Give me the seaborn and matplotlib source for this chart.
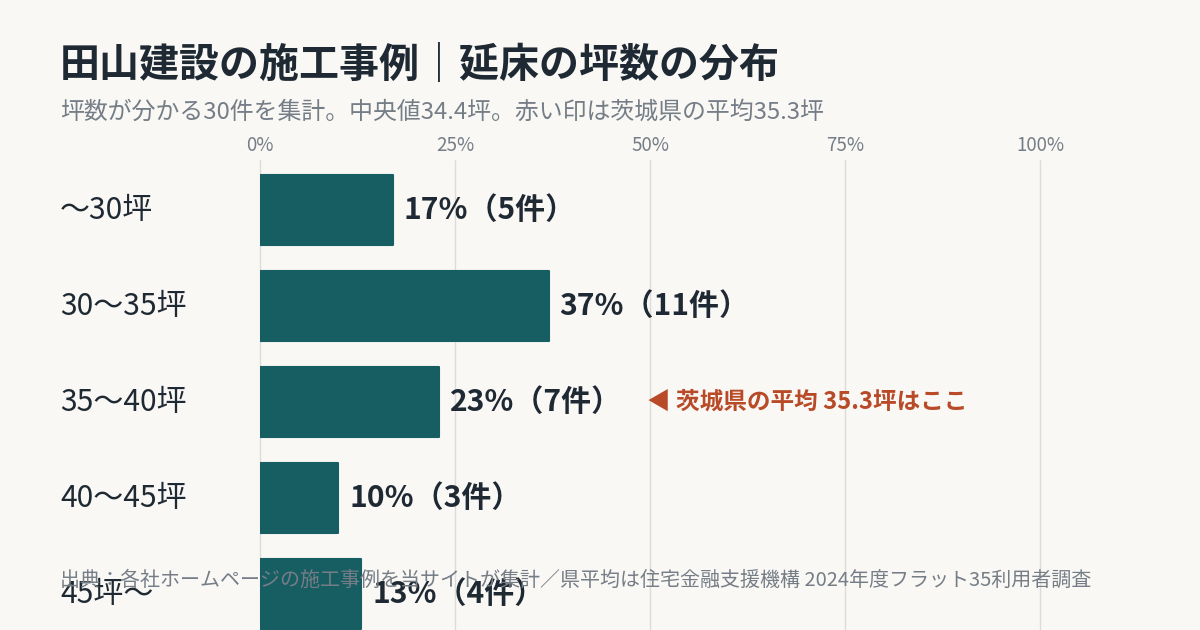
import numpy as np
import pandas as pd
import seaborn as sns
import matplotlib.pyplot as plt

# data
categories = ['～30坪', '30～35坪', '35～40坪', '40～45坪', '45坪～']
shares = [17, 37, 23, 10, 13]
counts = [5, 11, 7, 3, 4]
ticks = [0, 25, 50, 75, 100]
avg_row = '35～40坪'
avg_text = '◀ 茨城県の平均 35.3坪はここ'

bg = '#F9F8F5'
bar_color = '#175E63'
ink = '#1F2933'
gray = '#757D86'
red = '#B84A28'

sns.set_theme(style='white')
plt.rcParams['font.family'] = ['Noto Sans CJK JP', 'DejaVu Sans']

df = pd.DataFrame({'cat': categories, 'share': shares, 'n': counts})

fig = plt.figure(figsize=(12, 6.3), dpi=100, facecolor=bg)
ax = fig.add_axes([260 / 1200, 0, 780 / 1200, 470 / 630])
ax.set_facecolor(bg)

sns.barplot(data=df, x='share', y='cat', color=bar_color, width=0.73,
            saturation=1, ax=ax, zorder=2)
for p in ax.patches:
    p.set_edgecolor(bar_color)
    p.set_linewidth(1.5)
    p.set_joinstyle('round')

ax.set_xlim(0, 100)
ax.set_ylim(4.375, -0.521)
ax.set_xticks(ticks)
ax.set_xticklabels([f'{t}%' for t in ticks])
ax.xaxis.tick_top()
ax.tick_params(axis='x', length=0, pad=3, labelsize=13.5, labelcolor=gray)
ax.set_yticks([])
ax.set_xlabel('')
ax.set_ylabel('')
for s in ax.spines.values():
    s.set_visible(False)
ax.grid(axis='x', color='#DEDCD7', linewidth=1, zorder=0)
for g in ax.get_xgridlines():
    g.set_clip_on(False)
ax.set_axisbelow(True)

# px -> data units on x (780 px for 100%)
px = 100 / 780
for i, (c, v, n) in enumerate(zip(categories, shares, counts)):
    ax.text(v + 11 * px, i, f'{v}%（{n}件）', va='center', ha='left',
            fontsize=21.6, fontweight='bold', color=ink, zorder=3)
    ax.text(-200 * px, i, c, fontsize=21.6, color=ink, va='center', ha='left',
            clip_on=False)

ax.text(387 * px, categories.index(avg_row), avg_text, va='center', ha='left',
        fontsize=17, fontweight='bold', color=red)

fig.text(60 / 1200, 1 - 66 / 630, '田山建設の施工事例｜延床の坪数の分布',
         fontsize=28.8, fontweight='bold', color=ink, va='center', ha='left')
fig.text(60 / 1200, 1 - 112 / 630,
         '坪数が分かる30件を集計。中央値34.4坪。赤い印は茨城県の平均35.3坪',
         fontsize=17.2, color=gray, va='center', ha='left')
fig.text(60 / 1200, 1 - 580 / 630,
         '出典：各社ホームページの施工事例を当サイトが集計／県平均は住宅金融支援機構 2024年度フラット35利用者調査',
         fontsize=14.4, color=gray, va='center', ha='left', zorder=5)

fig.savefig('out.png', dpi=100, facecolor=bg)
